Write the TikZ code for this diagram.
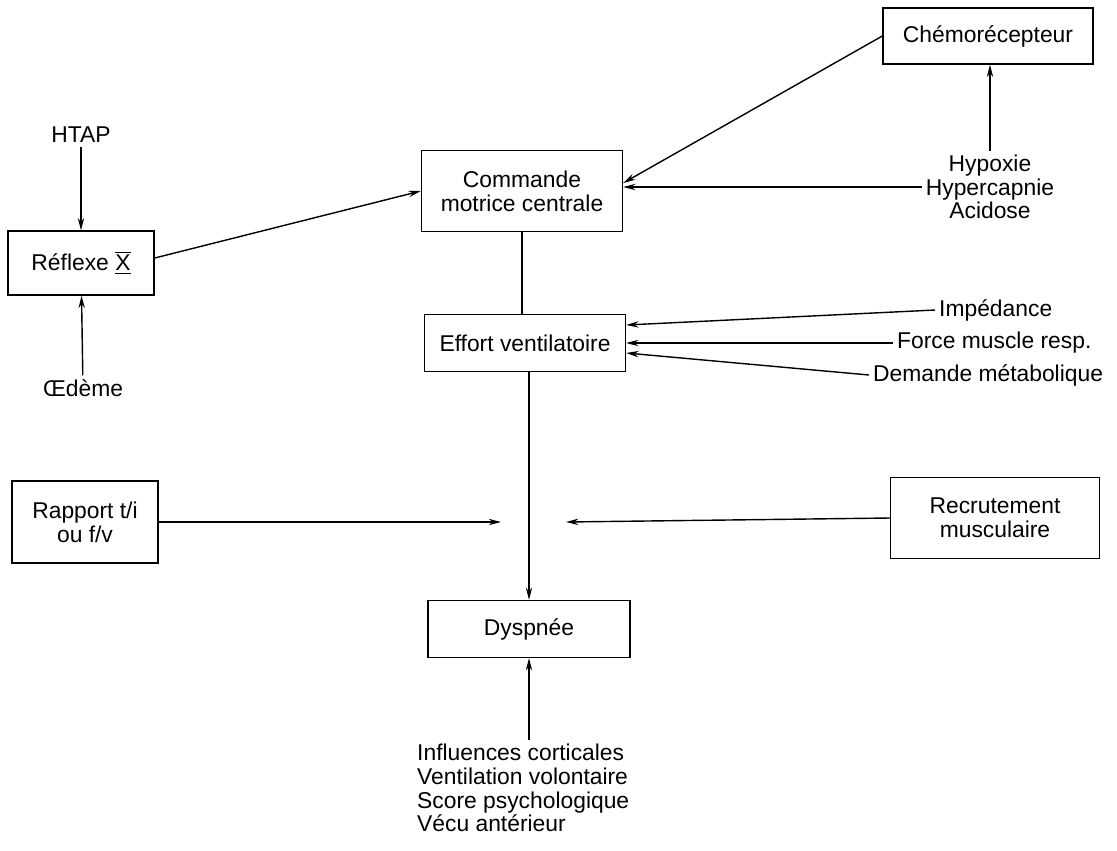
\documentclass[tikz,border=0pt]{standalone}
\usepackage{fontspec}
\setmainfont{Liberation Sans}
\usetikzlibrary{positioning,arrows.meta}

\tikzset{
  bloc/.style={draw, thick, align=center, inner sep=2pt},
  legende/.style={align=center, inner sep=2pt},
}

\begin{document}
\begin{tikzpicture}[x=0.02cm, y=-0.02cm, >={Stealth[length=7pt,width=3.6pt]}, thick, font=\fontsize{13}{13.5}\selectfont]
  \useasboundingbox (0,0) rectangle (1117,850);

  % boites
  \node[bloc, minimum width=2.92cm, minimum height=1.28cm] (reflexe) at (81,263) {Réflexe $\overline{\underline{\mbox{X}}}$};
  \node[bloc, minimum width=4.02cm, minimum height=1.62cm] (commande) at (522,191) {Commande\\motrice centrale};
  \node[bloc, minimum width=4.2cm, minimum height=1.12cm] (chemo) at (988,36) {Chémorécepteur};
  \node[bloc, minimum width=4.02cm, minimum height=1.14cm] (effort) at (525,343) {Effort ventilatoire};
  \node[bloc, minimum width=2.92cm, minimum height=1.64cm] (rapport) at (85,522) {Rapport t/i\\ou f/v};
  \node[bloc, minimum width=4.18cm, minimum height=1.62cm] (recrut) at (995,518) {Recrutement\\musculaire};
  \node[bloc, minimum width=4.04cm, minimum height=1.14cm] (dyspnee) at (529,629) {Dyspnée};

  % facteurs
  \node[legende] (htap) at (81,135) {HTAP};
  \node[legende] (oedeme) at (83,388) {Œdème};
  \node[legende] (hypo) at (990,187) {Hypoxie\\Hypercapnie\\Acidose};
  \node[legende, anchor=west] (imped) at (935,310) {Impédance};
  \node[legende, anchor=west] (force) at (893,343) {Force muscle resp.};
  \node[legende, anchor=west] (demande) at (869,375) {Demande métabolique};
  \node[legende, align=left, anchor=west] (cortex) at (413,788) {Influences corticales\\Ventilation volontaire\\Score psychologique\\Vécu antérieur};

  \coordinate (arriveeG) at (501,522);
  \coordinate (arriveeD) at (566,522);

  \draw (commande.south) -- (commande.south |- effort.north);
  \path[->] (htap) edge (reflexe)
            (oedeme) edge (reflexe)
            ([yshift=0.1cm]reflexe.east) edge (commande.west)
            (chemo.west) edge ([yshift=0.16cm]commande.east)
            (hypo.north) edge (hypo.north |- chemo.south)
            (hypo.west) edge (commande.east |- hypo.west)
            (imped.west) edge ([yshift=0.36cm]effort.east)
            (force.west) edge (effort.east |- force.west)
            (demande.west) edge ([yshift=-0.2cm]effort.east)
            (dyspnee.north |- effort.south) edge (dyspnee.north)
            (rapport.east) edge (arriveeG)
            (recrut.west) edge (arriveeD)
            (dyspnee.south |- cortex.north) edge (dyspnee.south);
\end{tikzpicture}
\end{document}
